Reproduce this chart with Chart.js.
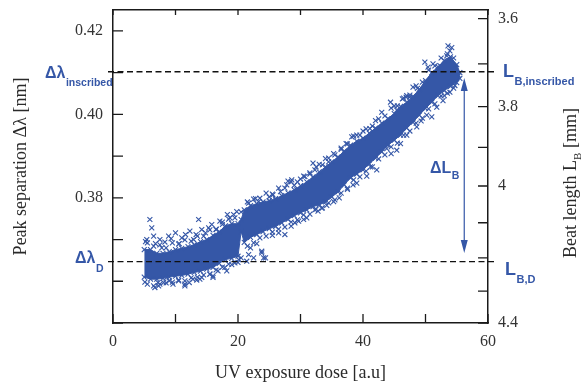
<!DOCTYPE html>
<html>
<head>
<meta charset="utf-8">
<script src="https://cdn.jsdelivr.net/npm/chart.js@4.4.0/dist/chart.umd.min.js"></script>
<style>
  body { margin: 0; background: #fff; }
  canvas { display: block; }
</style>
</head>
<body>
<canvas id="uvChart" width="586" height="388"></canvas>
<script>
const dose = [5, 6, 7, 8, 9, 10, 11, 12, 13, 14, 15, 16, 17, 18, 19, 20, 20.5,
  21, 22, 23, 24, 25, 26, 27, 28, 29, 30, 31, 32, 33, 34, 35, 36, 37, 38, 39, 40,
  41, 42, 43, 44, 45, 46, 47, 48, 49, 50, 51, 52, 53, 54, 55, 55.5];

// lower / upper edge of the dense band, peak separation in nm
const coreLow = [0.3610, 0.3605, 0.3605, 0.3607, 0.3610, 0.3612, 0.3614, 0.3617, 0.3621, 0.3624,
  0.3629, 0.3633, 0.3643, 0.3652, 0.3655, 0.3660, 0.3719,
  0.3693, 0.3705, 0.3712, 0.3719, 0.3726, 0.3731, 0.3740, 0.3748, 0.3757, 0.3764,
  0.3771, 0.3779, 0.3783, 0.3790, 0.3802, 0.3814, 0.3831, 0.3848, 0.3857, 0.3867,
  0.3881, 0.3895, 0.3910, 0.3926, 0.3938, 0.3950, 0.3967, 0.3981, 0.3998, 0.4014,
  0.4029, 0.4045, 0.4057, 0.4067, 0.4076, 0.4086];
const coreHigh = [0.3676, 0.3676, 0.3667, 0.3667, 0.3671, 0.3676, 0.3679, 0.3683, 0.3688, 0.3695,
  0.3700, 0.3710, 0.3719, 0.3733, 0.3738, 0.3738, 0.3748,
  0.3771, 0.3781, 0.3786, 0.3790, 0.3793, 0.3798, 0.3805, 0.3812, 0.3819, 0.3829,
  0.3838, 0.3850, 0.3862, 0.3874, 0.3886, 0.3898, 0.3912, 0.3926, 0.3936, 0.3943,
  0.3955, 0.3967, 0.3979, 0.3990, 0.4002, 0.4019, 0.4029, 0.4043, 0.4060, 0.4081,
  0.4100, 0.4114, 0.4129, 0.4138, 0.4119, 0.4100];

// looser fringe just outside the band, read between the samples above
const fringeDose = [5.5, 6.5, 7.5, 8.5, 9.5, 10.5, 11.5, 12.5, 13.5, 14.5,
  15.5, 16.5, 17.5, 18.5, 19.5, 20.5, 21.5, 22.5, 23.5, 24.5,
  25.5, 26.5, 27.5, 28.5, 29.5, 30.5, 31.5, 32.5, 33.5, 34.5,
  35.5, 36.5, 37.5, 38.5, 39.5, 40.5, 41.5, 42.5, 43.5, 44.5,
  45.5, 46.5, 47.5, 48.5, 49.5, 50.5, 51.5, 52.5, 53.5, 54.5];
const fringeHigh = [0.3692, 0.3684, 0.3687, 0.3680, 0.3692, 0.3689, 0.3699, 0.3696, 0.3708, 0.3708,
  0.3723, 0.3725, 0.3742, 0.3749, 0.3752, 0.3766, 0.3790, 0.3797, 0.3799, 0.3811,
  0.3809, 0.3823, 0.3823, 0.3838, 0.3838, 0.3852, 0.3857, 0.3874, 0.3879, 0.3895,
  0.3903, 0.3919, 0.3929, 0.3948, 0.3950, 0.3965, 0.3972, 0.3989, 0.3996, 0.4015,
  0.4020, 0.4039, 0.4046, 0.4068, 0.4077, 0.4106, 0.4116, 0.4135, 0.4145, 0.4135];
const fringeLow = [0.3593, 0.3589, 0.3593, 0.3596, 0.3598, 0.3603, 0.3601, 0.3608, 0.3610, 0.3615,
  0.3617, 0.3627, 0.3634, 0.3641, 0.3644, 0.3656, 0.3684, 0.3692, 0.3704, 0.3708,
  0.3718, 0.3725, 0.3730, 0.3742, 0.3747, 0.3759, 0.3761, 0.3773, 0.3776, 0.3788,
  0.3795, 0.3811, 0.3823, 0.3843, 0.3850, 0.3864, 0.3874, 0.3893, 0.3903, 0.3922,
  0.3931, 0.3950, 0.3960, 0.3979, 0.3991, 0.4013, 0.4025, 0.4044, 0.4051, 0.4063];

// loose points around the band: [dose, separation]
const speckle = [
  [5.9, 0.3748], [6.2, 0.3728], [6.5, 0.3708], [5.4, 0.3700], [5.2, 0.3695], [6.8, 0.3690],
  [7.5, 0.3700], [7.8, 0.3680], [8.3, 0.3694], [8.9, 0.3708], [9.3, 0.3702], [10.0, 0.3716],
  [10.6, 0.3690], [11.0, 0.3704], [11.6, 0.3712], [12.3, 0.3720], [12.9, 0.3700], [13.3, 0.3712],
  [13.7, 0.3748], [14.2, 0.3724], [14.8, 0.3716], [15.3, 0.3728], [15.8, 0.3736], [16.5, 0.3724],
  [17.1, 0.3744], [17.5, 0.3736], [18.3, 0.3760], [18.7, 0.3752], [19.3, 0.3760], [19.8, 0.3767],
  [5.1, 0.3598], [6.7, 0.3585], [7.2, 0.3597], [7.3, 0.3589], [8.1, 0.3597], [8.6, 0.3609],
  [9.0, 0.3601], [9.6, 0.3593], [10.5, 0.3601], [11.5, 0.3593], [11.5, 0.3589], [12.2, 0.3597],
  [12.8, 0.3605], [13.4, 0.3603], [13.9, 0.3605], [14.2, 0.3609], [15.0, 0.3633], [15.5, 0.3617],
  [16.0, 0.3613], [16.0, 0.3609], [16.8, 0.3625], [17.9, 0.3633], [18.2, 0.3625], [19.0, 0.3640],
  [20.0, 0.3645], [20.1, 0.3652],
  [21.7, 0.3787], [22.8, 0.3798], [23.3, 0.3791], [24.4, 0.3779], [25.0, 0.3802], [25.6, 0.3807],
  [26.0, 0.3795], [26.8, 0.3815], [27.8, 0.3831], [28.0, 0.3840], [28.6, 0.3843], [29.0, 0.3830],
  [29.4, 0.3819], [30.0, 0.3845], [30.7, 0.3851], [31.5, 0.3860], [32.0, 0.3883], [32.3, 0.3867],
  [33.0, 0.3880], [34.0, 0.3894], [34.5, 0.3886], [35.3, 0.3906],
  [21.4, 0.3648], [21.7, 0.3664], [22.0, 0.3680], [22.5, 0.3656], [23.0, 0.3690], [23.8, 0.3668],
  [23.8, 0.3672], [24.1, 0.3656], [24.4, 0.3656], [25.5, 0.3710], [26.5, 0.3716], [27.5, 0.3712],
  [28.5, 0.3732], [29.1, 0.3740], [29.7, 0.3744], [30.5, 0.3748], [31.0, 0.3752], [32.3, 0.3771],
  [32.8, 0.3768], [33.4, 0.3775], [34.2, 0.3782], [35.3, 0.3791],
  [36.5, 0.3916], [37.3, 0.3930], [38.2, 0.3946], [39.0, 0.3950], [40.0, 0.3960], [41.1, 0.3966],
  [42.0, 0.3985], [43.0, 0.4005], [44.4, 0.4029], [45.0, 0.4020], [45.4, 0.4010], [46.3, 0.4037],
  [47.0, 0.4045], [47.5, 0.4041], [48.7, 0.4062], [46.9, 0.4041], [48.0, 0.4065],
  [36.2, 0.3800], [37.5, 0.3820], [38.4, 0.3831], [39.0, 0.3835], [40.6, 0.3852], [41.2, 0.3874],
  [42.2, 0.3867], [43.8, 0.3918], [44.5, 0.3906], [45.4, 0.3914], [46.0, 0.3930], [47.0, 0.3950],
  [48.6, 0.3970], [49.3, 0.3984], [50.2, 0.3998], [51.0, 0.3994], [51.8, 0.4017], [52.8, 0.4033],
  [53.0, 0.4045], [53.9, 0.4053], [54.7, 0.4069], [55.3, 0.4093],
  [49.9, 0.4125], [50.4, 0.4113], [51.2, 0.4121], [52.3, 0.4117], [53.4, 0.4140], [53.6, 0.4164],
  [53.9, 0.4152], [54.2, 0.4160]
];

// axes
const doseTicks = [0, 10, 20, 30, 40, 50, 60];
const doseTickLabels = ['0', '', '20', '', '40', '', '60'];
const sepMin = 0.35, sepMax = 0.425;
const sepTicks = [0.35, 0.36, 0.37, 0.38, 0.39, 0.40, 0.41, 0.42];
const sepTickLabels = ['', '', '', '0.38', '', '0.40', '', '0.42'];
const beatTicks = [3.6, 3.7, 3.8, 3.9, 4.0, 4.1, 4.2, 4.3, 4.4];
const beatTickLabels = ['3.6', '', '3.8', '', '4', '', '', '', '4.4'];
// beat length L -> peak separation: a / L + c
const beatA = 1.4447, beatC = 0.02165;

// reference levels and the arrow
const inscribedSep = 0.4102;
const damageSep = 0.3647;
const arrowDose = 56.2;
const arrowTop = 0.4087;
const arrowBottom = 0.3668;

const BLUE = '#3557a7';
const INK = '#1a1a1a';
const SERIF = "'Liberation Serif', 'Times New Roman', serif";
const SANS = "'Liberation Sans', Arial, sans-serif";

function subText(ctx, x, y, main, sub, mainFont, subFont, drop) {
  ctx.font = mainFont;
  ctx.fillText(main, x, y);
  const w = ctx.measureText(main).width;
  ctx.font = subFont;
  ctx.fillText(sub, x + w + 0.5, y + drop);
}

const decor = {
  id: 'decor',
  afterDraw(chart) {
    const { ctx, chartArea: a, scales } = chart;
    const xs = scales.x, ys = scales.y;
    ctx.save();

    // inward tick marks on all four sides
    ctx.strokeStyle = INK;
    ctx.lineWidth = 1.3;
    ctx.beginPath();
    scales.x.ticks.forEach(t => {
      const p = scales.x.getPixelForValue(t.value);
      ctx.moveTo(p, a.bottom); ctx.lineTo(p, a.bottom - 9);
    });
    scales.x2.ticks.forEach(t => {
      const p = scales.x2.getPixelForValue(t.value);
      ctx.moveTo(p, a.top); ctx.lineTo(p, a.top + 5);
    });
    scales.y.ticks.forEach(t => {
      const p = scales.y.getPixelForValue(t.value);
      ctx.moveTo(a.left, p); ctx.lineTo(a.left + 10, p);
    });
    scales.y2.ticks.forEach(t => {
      const p = scales.y2.getPixelForValue(t.value);
      ctx.moveTo(a.right, p); ctx.lineTo(a.right - 10, p);
    });
    ctx.stroke();

    // dashed reference levels
    ctx.strokeStyle = '#111';
    ctx.lineWidth = 1.4;
    ctx.setLineDash([6, 3.5]);
    ctx.beginPath();
    [inscribedSep, damageSep].forEach(v => {
      const p = ys.getPixelForValue(v);
      ctx.moveTo(a.left - 5, p); ctx.lineTo(a.right + 8, p);
    });
    ctx.stroke();
    ctx.setLineDash([]);

    // double arrow for delta L_B
    const ax = xs.getPixelForValue(arrowDose);
    const y1 = ys.getPixelForValue(arrowTop);
    const y2 = ys.getPixelForValue(arrowBottom);
    ctx.strokeStyle = BLUE;
    ctx.fillStyle = BLUE;
    ctx.lineWidth = 1.2;
    ctx.beginPath();
    ctx.moveTo(ax, y1 + 10); ctx.lineTo(ax, y2 - 10);
    ctx.stroke();
    ctx.beginPath();
    ctx.moveTo(ax, y1); ctx.lineTo(ax - 3.5, y1 + 13); ctx.lineTo(ax + 3.5, y1 + 13); ctx.closePath();
    ctx.moveTo(ax, y2); ctx.lineTo(ax - 3.5, y2 - 13); ctx.lineTo(ax + 3.5, y2 - 13); ctx.closePath();
    ctx.fill();

    // blue annotations
    const yi = ys.getPixelForValue(inscribedSep);
    const yd = ys.getPixelForValue(damageSep);
    ctx.textAlign = 'left';
    ctx.textBaseline = 'alphabetic';
    subText(ctx, 45, yi + 6, 'Δλ', 'inscribed', 'bold 16px ' + SANS, 'bold 10.5px ' + SANS, 8);
    subText(ctx, 75, yd + 1.5, 'Δλ', 'D', 'bold 16px ' + SANS, 'bold 10.5px ' + SANS, 9);
    subText(ctx, 503, yi + 5.5, 'L', 'B,inscribed', 'bold 18px ' + SANS, 'bold 11px ' + SANS, 7.5);
    subText(ctx, 505, yd + 13, 'L', 'B,D', 'bold 18px ' + SANS, 'bold 11px ' + SANS, 8);
    subText(ctx, 430, (y1 + y2) / 2 + 8, 'ΔL', 'B', 'bold 16px ' + SANS, 'bold 10.5px ' + SANS, 6);

    // axis titles
    ctx.fillStyle = '#2a2a2a';
    ctx.font = '18px ' + SERIF;
    ctx.textAlign = 'center';
    ctx.textBaseline = 'middle';
    ctx.fillText('UV exposure dose [a.u]', (a.left + a.right) / 2, 373);

    ctx.save();
    ctx.translate(21, (a.top + a.bottom) / 2);
    ctx.rotate(-Math.PI / 2);
    ctx.fillText('Peak separation Δλ [nm]', 0, 0);
    ctx.restore();

    ctx.save();
    ctx.translate(571, 183);
    ctx.rotate(-Math.PI / 2);
    const partA = 'Beat length L', partB = ' [mm]';
    ctx.font = '18px ' + SERIF;
    const wA = ctx.measureText(partA).width, wB = ctx.measureText(partB).width;
    ctx.font = '11px ' + SERIF;
    const wS = ctx.measureText('B').width;
    const x0 = -(wA + wS + wB) / 2;
    ctx.textAlign = 'left';
    ctx.font = '18px ' + SERIF;
    ctx.fillText(partA, x0, 0);
    ctx.font = '11px ' + SERIF;
    ctx.fillText('B', x0 + wA, 7);
    ctx.font = '18px ' + SERIF;
    ctx.fillText(partB, x0 + wA + wS, 0);
    ctx.restore();

    ctx.restore();
  }
};

const markerStyle = {
  pointStyle: 'crossRot',
  pointRadius: 3.5,
  pointBorderWidth: 1.1,
  pointBorderColor: BLUE,
  pointBackgroundColor: BLUE
};

new Chart(document.getElementById('uvChart'), {
  type: 'scatter',
  data: {
    datasets: [
      Object.assign({
        type: 'line',
        data: dose.map((x, i) => ({ x, y: coreHigh[i] })),
        borderColor: BLUE, borderWidth: 1, tension: 0, fill: false
      }, markerStyle),
      Object.assign({
        type: 'line',
        data: dose.map((x, i) => ({ x, y: coreLow[i] })),
        borderColor: BLUE, borderWidth: 1, tension: 0,
        fill: '-1', backgroundColor: BLUE
      }, markerStyle),
      Object.assign({ data: fringeDose.map((x, i) => ({ x, y: fringeHigh[i] })) }, markerStyle),
      Object.assign({ data: fringeDose.map((x, i) => ({ x, y: fringeLow[i] })) }, markerStyle),
      Object.assign({ data: speckle.map(p => ({ x: p[0], y: p[1] })) }, markerStyle)
    ]
  },
  options: {
    responsive: false,
    animation: false,
    devicePixelRatio: 1,
    layout: { padding: { top: 10, left: 0, right: 0, bottom: 0 } },
    plugins: { legend: { display: false }, tooltip: { enabled: false } },
    scales: {
      x: {
        type: 'linear', position: 'bottom', min: 0, max: 60,
        grid: { display: false, drawTicks: false },
        border: { display: true, color: INK, width: 1.5 },
        ticks: { font: { family: SERIF, size: 16 }, color: '#333', padding: 9, autoSkip: false, maxRotation: 0,
          callback: (v, i) => doseTickLabels[i] },
        afterBuildTicks: s => { s.ticks = doseTicks.map(v => ({ value: v })); },
        afterFit: s => { s.height = 65; s.paddingLeft = 0; s.paddingRight = 0; }
      },
      x2: {
        type: 'linear', position: 'top', min: 0, max: 60,
        grid: { display: false, drawTicks: false },
        border: { display: true, color: INK, width: 1.5 },
        ticks: { display: false },
        afterBuildTicks: s => { s.ticks = doseTicks.map(v => ({ value: v })); },
        afterFit: s => { s.height = 0; s.paddingLeft = 0; s.paddingRight = 0; }
      },
      y: {
        type: 'linear', position: 'left', min: sepMin, max: sepMax,
        grid: { display: false, drawTicks: false },
        border: { display: true, color: INK, width: 1.5 },
        ticks: { font: { family: SERIF, size: 16 }, color: '#333', padding: 10, autoSkip: false,
          callback: (v, i) => sepTickLabels[i] },
        afterBuildTicks: s => { s.ticks = sepTicks.map(v => ({ value: v })); },
        afterFit: s => { s.width = 113; s.paddingTop = 0; s.paddingBottom = 0; }
      },
      y2: {
        type: 'linear', position: 'right', min: sepMin, max: sepMax,
        grid: { display: false, drawTicks: false },
        border: { display: true, color: INK, width: 1.5 },
        ticks: { font: { family: SERIF, size: 16 }, color: '#333', padding: 10, autoSkip: false,
          callback: (v, i) => beatTickLabels[i] },
        afterBuildTicks: s => { s.ticks = beatTicks.map(L => ({ value: beatA / L + beatC })); },
        afterFit: s => { s.width = 98; s.paddingTop = 0; s.paddingBottom = 0; }
      }
    }
  },
  plugins: [decor]
});
</script>
</body>
</html>
